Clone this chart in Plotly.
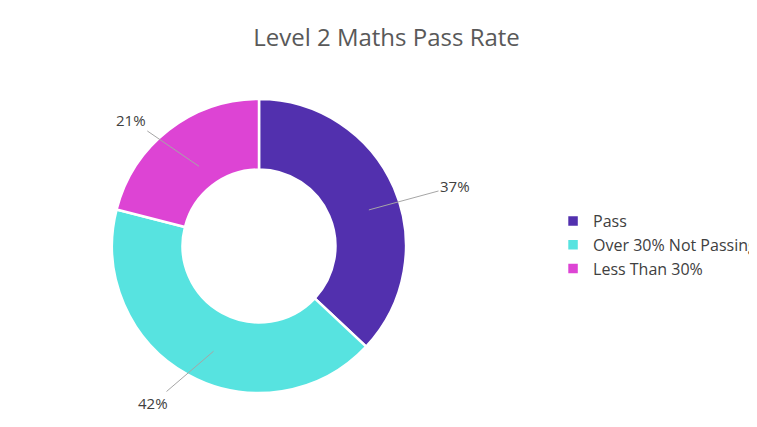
import numpy as np
import plotly.graph_objects as go

labels = ["Pass", "Over 30% Not Passing", "Less Than 30%"]
values = [37, 42, 21]
colors = ["#5230AE", "#57E3E0", "#DD44D4"]

W, H = 757, 427
cx, cy = 259, 246          # pie centre in pixels
r_out = 147
dx, dy = -8, -8            # correction for plotly's rendered offset

fig = go.Figure(go.Pie(
    labels=labels, values=values, hole=0.52, sort=False, direction="clockwise",
    rotation=0, marker=dict(colors=colors, line=dict(color="white", width=2.5)),
    textinfo="none", hoverinfo="label+percent",
    domain=dict(x=[(cx + dx - r_out) / W, (cx + dx + r_out) / W],
                y=[1 - (cy + dy + r_out) / H, 1 - (cy + dy - r_out) / H]),
))

# leader-line labels computed from slice mid-angles
total = sum(values)
cum = 0
anns = []
for v in values:
    mid = (cum + v / 2) / total * 2 * np.pi
    cum += v
    s, c = np.sin(mid), np.cos(mid)
    px, py = cx + 111 * s, cy - 111 * c
    tx, ty = cx + 170 * s + (32 if s > 0 else -32), cy - 170 * c
    anns.append(dict(x=px / W, y=1 - py / H, xref="paper", yref="paper",
                     text=f"{round(v / total * 100)}%", showarrow=True,
                     arrowhead=0, arrowwidth=1, arrowcolor="#A6A6A6",
                     ax=tx - px, ay=ty - py,
                     font=dict(size=15, color="#404040")))

fig.update_layout(
    width=W, height=H, margin=dict(l=0, r=0, t=0, b=0),
    paper_bgcolor="white", plot_bgcolor="white",
    font=dict(family="Open Sans, Liberation Sans, sans-serif", color="#595959"),
    title=dict(text="Level 2 Maths Pass Rate", x=0.5, xanchor="center",
               y=0.93, yanchor="middle", font=dict(size=24, color="#595959")),
    legend=dict(x=0.72, y=0.445, xanchor="left", yanchor="middle",
                font=dict(size=16, color="#404040"), itemwidth=30),
    annotations=anns,
)

fig.write_html("out.html")
